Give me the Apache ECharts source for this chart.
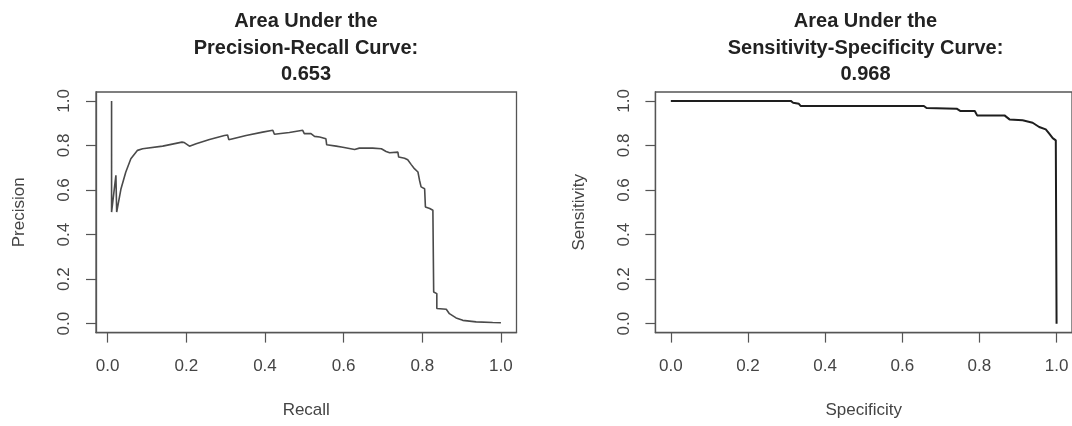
<!DOCTYPE html>
<html>
<head>
<meta charset="utf-8">
<script src="https://cdn.jsdelivr.net/npm/echarts@6/dist/echarts.min.js"></script>
<style>
html,body{margin:0;padding:0;background:#fff;}
#c{width:1072px;height:426px;}
</style>
</head>
<body>
<div id="c"></div>
<script>
// ---- data ----
const titlePR = "Area Under the\nPrecision-Recall Curve:\n0.653";
const titleSS = "Area Under the\nSensitivity-Specificity Curve:\n0.968";
const tickValues = [0, 0.2, 0.4, 0.6, 0.8, 1.0];
const tickLabels = ["0.0", "0.2", "0.4", "0.6", "0.8", "1.0"];

const prRecall = [0.010, 0.010, 0.021, 0.023, 0.034, 0.046, 0.059, 0.076, 0.089, 0.140, 0.189, 0.195, 0.208, 0.225, 0.259, 0.297, 0.305, 0.308, 0.352, 0.394, 0.420, 0.424, 0.462, 0.496, 0.500, 0.517, 0.526, 0.539, 0.555, 0.557, 0.581, 0.598, 0.628, 0.640, 0.674, 0.696, 0.708, 0.717, 0.738, 0.740, 0.755, 0.763, 0.772, 0.780, 0.789, 0.793, 0.797, 0.806, 0.808, 0.819, 0.827, 0.829, 0.837, 0.837, 0.861, 0.869, 0.886, 0.903, 0.937, 0.979, 1.000];
const prPrecision = [1.000, 0.501, 0.666, 0.501, 0.606, 0.680, 0.740, 0.778, 0.785, 0.797, 0.815, 0.813, 0.797, 0.808, 0.827, 0.845, 0.847, 0.826, 0.845, 0.860, 0.868, 0.850, 0.858, 0.868, 0.853, 0.853, 0.841, 0.838, 0.830, 0.803, 0.797, 0.792, 0.782, 0.788, 0.788, 0.785, 0.773, 0.767, 0.770, 0.748, 0.743, 0.736, 0.714, 0.696, 0.681, 0.644, 0.614, 0.606, 0.524, 0.517, 0.509, 0.142, 0.135, 0.068, 0.065, 0.045, 0.026, 0.015, 0.008, 0.005, 0.004];

const ssSpecificity = [0.000, 0.311, 0.317, 0.332, 0.337, 0.656, 0.663, 0.741, 0.750, 0.788, 0.794, 0.865, 0.878, 0.912, 0.938, 0.955, 0.972, 0.981, 0.990, 0.998, 1.000, 1.000];
const ssSensitivity = [1.000, 1.000, 0.992, 0.987, 0.977, 0.977, 0.968, 0.965, 0.955, 0.955, 0.935, 0.935, 0.917, 0.913, 0.902, 0.883, 0.872, 0.853, 0.833, 0.823, 0.823, 0.000];

// ---- chart ----
const FONT = '"Liberation Sans", Arial, Helvetica, sans-serif';
const labelFmt = v => { const i = tickValues.findIndex(t => Math.abs(t - v) < 1e-9); return i >= 0 ? tickLabels[i] : ''; };
const zip = (a, b) => a.map((v, i) => [v, b[i]]);

function xAx(idx, name, min, max) {
  return {
    type: 'value', gridIndex: idx, min: min, max: max, position: 'bottom',
    name: name, nameLocation: 'middle', nameGap: 69,
    nameTextStyle: {fontFamily: FONT, fontSize: 17, color: '#444'},
    axisLine: {show: true, onZero: false, lineStyle: {color: '#555', width: 1.3}},
    splitLine: {show: false},
    axisTick: {show: true, inside: false, length: 10, customValues: tickValues, lineStyle: {color: '#555', width: 1.2}},
    axisLabel: {show: true, margin: 25, customValues: tickValues, formatter: labelFmt, fontFamily: FONT, fontSize: 17, color: '#444'}
  };
}
function yAx(idx, name) {
  return {
    type: 'value', gridIndex: idx, min: -0.04, max: 1.04, position: 'left',
    name: name, nameLocation: 'middle', nameGap: 68,
    nameTextStyle: {fontFamily: FONT, fontSize: 17, color: '#444'},
    axisLine: {show: true, onZero: false, lineStyle: {color: '#555', width: 1.3}},
    splitLine: {show: false},
    axisTick: {show: true, inside: false, length: 10, customValues: tickValues, lineStyle: {color: '#555', width: 1.2}},
    axisLabel: {show: true, rotate: 90, margin: 23, customValues: tickValues, formatter: labelFmt, fontFamily: FONT, fontSize: 17, color: '#444'}
  };
}

const chart = echarts.init(document.getElementById('c'), null, {renderer: 'canvas'});
chart.setOption({
  animation: false,
  backgroundColor: '#fff',
  title: [
    {text: titlePR, left: 306, top: 8, padding: 0, textAlign: 'center',
     textStyle: {fontFamily: FONT, fontSize: 20, fontWeight: 'bold', color: '#222', lineHeight: 26.7}},
    {text: titleSS, left: 865.5, top: 8, padding: 0, textAlign: 'center',
     textStyle: {fontFamily: FONT, fontSize: 20, fontWeight: 'bold', color: '#222', lineHeight: 26.7}}
  ],
  grid: [
    {left: 96, top: 92, width: 420.5, height: 240.6, show: true, borderColor: '#555', borderWidth: 1.3, backgroundColor: 'transparent'},
    {left: 655.4, top: 92, width: 420.2, height: 240.6, show: true, borderColor: '#555', borderWidth: 1.3, backgroundColor: 'transparent'}
  ],
  xAxis: [xAx(0, 'Recall', -0.0296, 1.0396), xAx(1, 'Specificity', -0.04, 1.04)],
  yAxis: [yAx(0, 'Precision'), yAx(1, 'Sensitivity')],
  series: [
    {type: 'line', xAxisIndex: 0, yAxisIndex: 0, data: zip(prRecall, prPrecision), showSymbol: false,
     lineStyle: {color: '#4a4a4a', width: 1.6}, clip: false},
    {type: 'line', xAxisIndex: 1, yAxisIndex: 1, data: zip(ssSpecificity, ssSensitivity), showSymbol: false,
     lineStyle: {color: '#1e1e1e', width: 2}, clip: false}
  ]
});
</script>
</body>
</html>
